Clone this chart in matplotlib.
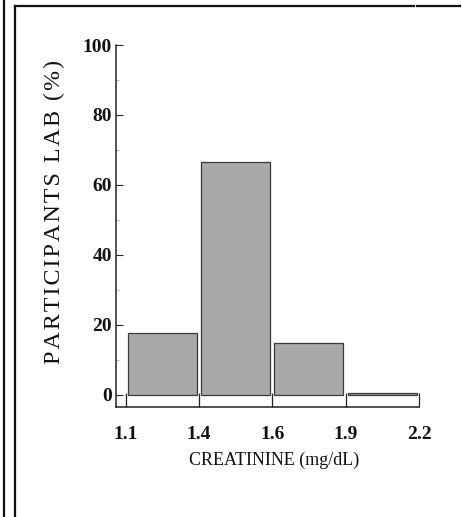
import matplotlib
matplotlib.use("Agg")
import matplotlib.pyplot as plt
from matplotlib.lines import Line2D
from matplotlib.ticker import MultipleLocator

# Data
bin_labels = ["1.1", "1.4", "1.6", "1.9", "2.2"]
percent = [17.8, 66.7, 14.8, 0.5]
y_ticks = [0, 20, 40, 60, 80, 100]

W, H = 462, 517
fig = plt.figure(figsize=(W / 100, H / 100), dpi=100)
fig.patch.set_facecolor("white")

left_px, right_px = 116, 419
top_px, bottom_px = 45, 407
ax = fig.add_axes([left_px / W, 1 - bottom_px / H,
                   (right_px - left_px) / W, (bottom_px - top_px) / H])

pos = list(range(len(percent)))
ax.bar([p + 0.5 for p in pos], percent, width=0.94, color="#a9a9a9",
       edgecolor="#3a3a3a", linewidth=0.9, zorder=2)

ax.set_xlim(-0.13, 4.0)
ax.set_ylim(-3.43, 100)
ax.set_xticks(range(len(bin_labels)))
ax.set_xticklabels(bin_labels)
ax.set_yticks(y_ticks)
ax.yaxis.set_minor_locator(MultipleLocator(10))

for s in ["top", "right"]:
    ax.spines[s].set_visible(False)
ax.spines["left"].set_bounds(-3.43, 100)
for s in ["left", "bottom"]:
    ax.spines[s].set_linewidth(1.1)
    ax.spines[s].set_color("#222222")

serif = "Liberation Serif"
ax.tick_params(axis="y", which="major", direction="in", length=5, width=0.8,
               pad=3, labelsize=14, colors="#222222")
ax.tick_params(axis="y", which="minor", direction="in", length=2, width=0.5,
               colors="#999999")
ax.tick_params(axis="x", which="major", direction="in", length=10, width=0.9,
               pad=14, labelsize=14, colors="#222222")
for lab in ax.get_xticklabels() + ax.get_yticklabels():
    lab.set_fontfamily(serif)
    lab.set_fontweight("bold")
    lab.set_color("#111111")

ylabel = "\u200a".join("PARTICIPANTS LAB (%)")
fig.text(54 / W, 1 - 212 / H, ylabel, rotation=90,
         ha="center", va="center", fontsize=17.3, family=[serif, "DejaVu Serif"],
         color="#111111")
fig.text(274 / W, 1 - 460 / H, "CREATININE (mg/dL)", ha="center", va="center",
         fontsize=13, family=serif, color="#111111")

# frame lines
fig.add_artist(Line2D([4 / W, 4 / W], [0, 1], transform=fig.transFigure,
                      color="#111111", linewidth=1.6))
fig.add_artist(Line2D([15 / W, 15 / W], [0, 1 - 6 / H], transform=fig.transFigure,
                      color="#111111", linewidth=1.6))
fig.add_artist(Line2D([15 / W, 414 / W], [1 - 6 / H, 1 - 6 / H],
                      transform=fig.transFigure, color="#111111", linewidth=1.6))
fig.add_artist(Line2D([417 / W, 460 / W], [1 - 6 / H, 1 - 6 / H],
                      transform=fig.transFigure, color="#111111", linewidth=1.6))

fig.savefig("out.png", dpi=100)
